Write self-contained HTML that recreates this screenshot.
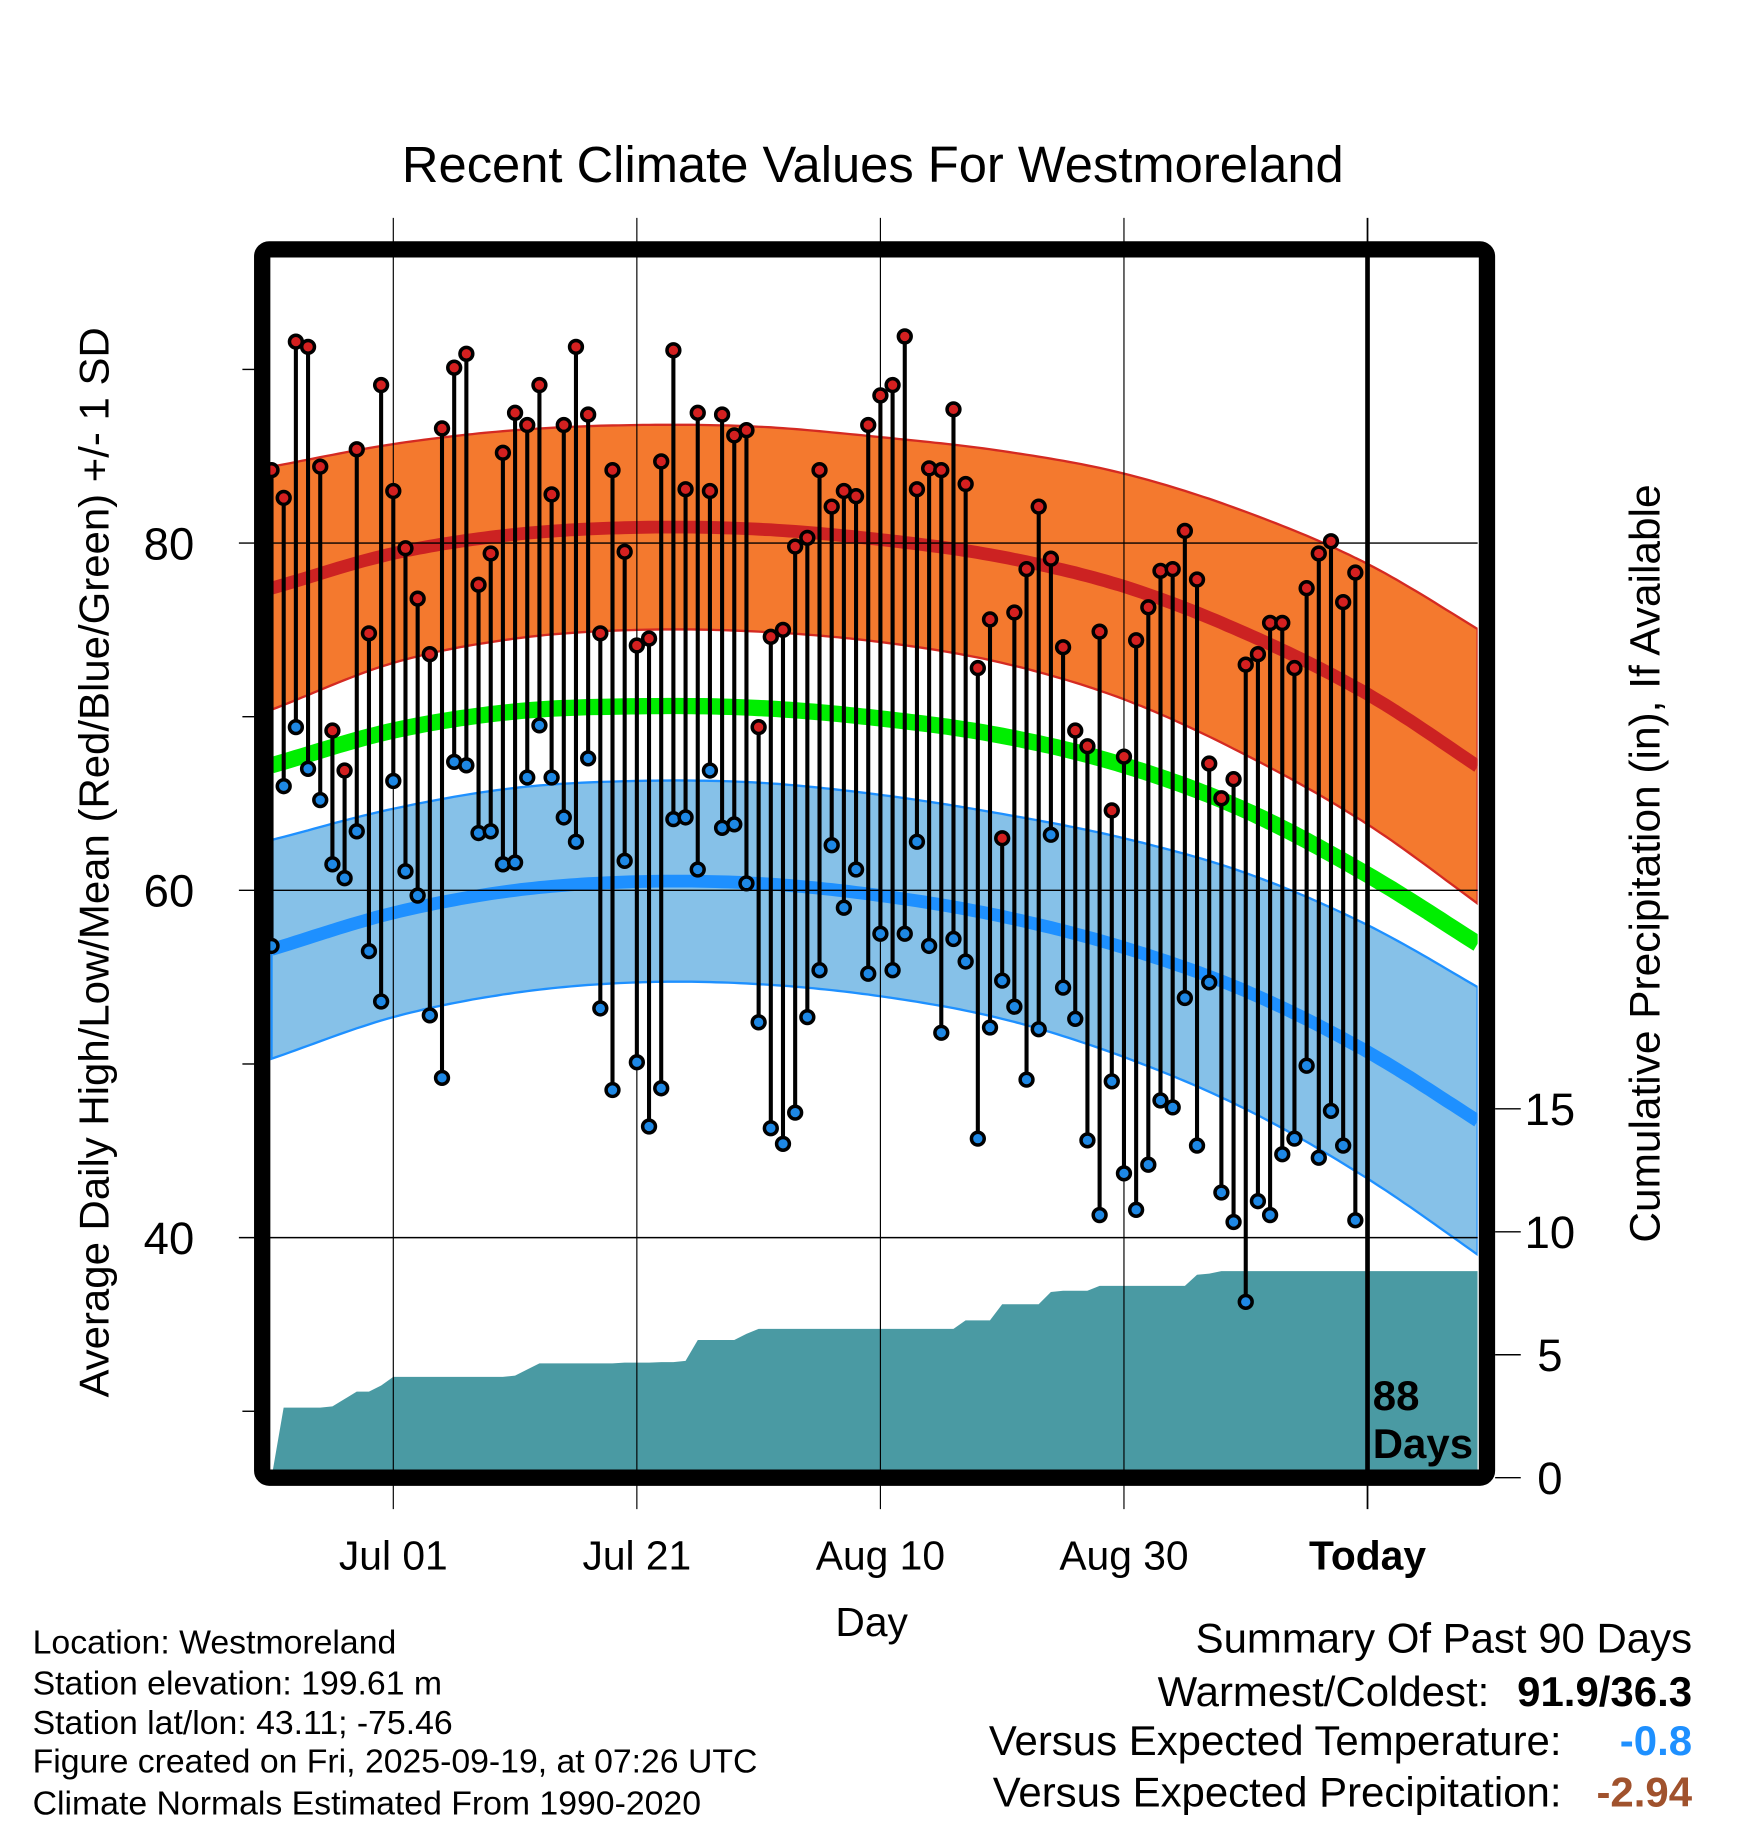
<!DOCTYPE html>
<html><head><meta charset="utf-8"><style>
html,body{margin:0;padding:0;background:#fff}
svg{display:block}
text{font-family:"Liberation Sans",Arial,sans-serif}
</style></head><body>
<svg id="chart" width="1748" height="1828" viewBox="0 0 1500 1568.6" preserveAspectRatio="none" xmlns="http://www.w3.org/2000/svg">
<rect width="1500" height="1568.6" fill="#fff"/>
<g id="plot"></g>
<text x="749" y="156" font-size="43.5" text-anchor="middle">Recent Climate Values For Westmoreland</text>
<text transform="translate(93,740) rotate(-90)" font-size="36" text-anchor="middle">Average Daily High/Low/Mean (Red/Blue/Green) +/- 1 SD</text>
<text transform="translate(1424,741) rotate(-90)" font-size="36.4" text-anchor="middle">Cumulative Precipitation (in), If Available</text>
<text x="748" y="1404" font-size="35" text-anchor="middle">Day</text>
<text x="1178" y="1210" font-size="36" font-weight="bold">88</text>
<text x="1178" y="1251" font-size="36" font-weight="bold">Days</text>
<g font-size="29">
<text x="28" y="1419">Location: Westmoreland</text>
<text x="28" y="1454">Station elevation: 199.61 m</text>
<text x="28" y="1488">Station lat/lon: 43.11; -75.46</text>
<text x="28" y="1521">Figure created on Fri, 2025-09-19, at 07:26 UTC</text>
<text x="28" y="1557">Climate Normals Estimated From 1990-2020</text>
</g>
<g font-size="36">
<text x="1452" y="1418" text-anchor="end">Summary Of Past 90 Days</text>
<text x="1278" y="1464" text-anchor="end">Warmest/Coldest:</text>
<text x="1452" y="1464" text-anchor="end" font-weight="bold">91.9/36.3</text>
<text x="1340" y="1506" text-anchor="end">Versus Expected Temperature:</text>
<text x="1452" y="1506" text-anchor="end" font-weight="bold" fill="#1e90ff">-0.8</text>
<text x="1340" y="1550" text-anchor="end">Versus Expected Precipitation:</text>
<text x="1452" y="1550" text-anchor="end" font-weight="bold" fill="#a0522d">-2.94</text>
</g>
</svg>
<script>
const highs=[84.2,82.6,91.6,91.3,84.4,69.2,66.9,85.4,74.8,89.1,83.0,79.7,76.8,73.6,86.6,90.1,90.9,77.6,79.4,85.2,87.5,86.8,89.1,82.8,86.8,91.3,87.4,74.8,84.2,79.5,74.1,74.5,84.7,91.1,83.1,87.5,83.0,87.4,86.2,86.5,69.4,74.6,75.0,79.8,80.3,84.2,82.1,83.0,82.7,86.8,88.5,89.1,91.9,83.1,84.3,84.2,87.7,83.4,72.8,75.6,63.0,76.0,78.5,82.1,79.1,74.0,69.2,68.3,74.9,64.6,67.7,74.4,76.3,78.4,78.5,80.7,77.9,67.3,65.3,66.4,73.0,73.6,75.4,75.4,72.8,77.4,79.4,80.1,76.6,78.3];
const lows=[56.8,66.0,69.4,67.0,65.2,61.5,60.7,63.4,56.5,53.6,66.3,61.1,59.7,52.8,49.2,67.4,67.2,63.3,63.4,61.5,61.6,66.5,69.5,66.5,64.2,62.8,67.6,53.2,48.5,61.7,50.1,46.4,48.6,64.1,64.2,61.2,66.9,63.6,63.8,60.4,52.4,46.3,45.4,47.2,52.7,55.4,62.6,59.0,61.2,55.2,57.5,55.4,57.5,62.8,56.8,51.8,57.2,55.9,45.7,52.1,54.8,53.3,49.1,52.0,63.2,54.4,52.6,45.6,41.3,49.0,43.7,41.6,44.2,47.9,47.5,53.8,45.3,54.7,42.6,40.9,36.3,42.1,41.3,44.8,45.7,49.9,44.6,47.3,45.3,41.0];
const precip=[0,2.85,2.85,2.85,2.85,2.9,3.2,3.5,3.5,3.75,4.1,4.1,4.1,4.1,4.1,4.1,4.1,4.1,4.1,4.1,4.15,4.4,4.65,4.65,4.65,4.65,4.65,4.65,4.65,4.68,4.68,4.68,4.7,4.7,4.75,5.6,5.6,5.6,5.6,5.85,6.05,6.05,6.05,6.05,6.05,6.05,6.05,6.05,6.05,6.05,6.05,6.05,6.05,6.05,6.05,6.05,6.05,6.4,6.4,6.4,7.05,7.05,7.05,7.05,7.55,7.6,7.6,7.6,7.8,7.8,7.8,7.8,7.8,7.8,7.8,7.8,8.25,8.3,8.4,8.4,8.4,8.4,8.4,8.4,8.4,8.4,8.4,8.4,8.4,8.4];
const normDays=[0,10,20,30,40,50,60,70,80,90,100];
const normHigh=[77.4,79.4,80.5,80.9,80.8,80.2,79.2,77.5,74.8,71.3,66.7];
const normHighSD=[7.0,6.3,6.0,5.9,5.9,5.9,6.1,6.5,7.0,7.5,7.95];
const normMean=[67.2,69.2,70.3,70.6,70.5,69.9,68.9,67.2,64.6,60.9,56.5];
const normLow=[56.6,58.7,60.0,60.5,60.4,59.7,58.5,56.7,54.2,50.7,46.3];
const normLowSD=[6.3,6.0,5.9,5.8,5.8,5.8,5.9,6.3,6.8,7.3,7.75];
const xTickDays=[10,30,50,70,90];
const xTickLabels=["Jul 01","Jul 21","Aug 10","Aug 30","Today"];
const yTicks=[40,60,80];
const yMinor=[30,50,70,90];
const pTicks=[0,5,10,15];

const X0=233,DX=10.45,PL=232,PR=1268,PT=221,PB=1261;
const x=d=>X0+d*DX;
const yT=t=>466+(80-t)*14.9;
const yP=p=>1268-p*21.1;
const NS='http://www.w3.org/2000/svg';
const plot=document.getElementById('plot');
function mk(tag,attrs,parent){const e=document.createElementNS(NS,tag);for(const k in attrs)e.setAttribute(k,attrs[k]);(parent||plot).appendChild(e);return e;}
function interp(arr,d){
  let i=0;while(i<normDays.length-2&&d>normDays[i+1])i++;
  const t=(d-normDays[i])/(normDays[i+1]-normDays[i]);
  const p1=arr[i],p2=arr[i+1];
  const p0=i>0?arr[i-1]:2*p1-p2;
  const p3=i+2<arr.length?arr[i+2]:2*p2-p1;
  return 0.5*((2*p1)+(-p0+p2)*t+(2*p0-5*p1+4*p2-p3)*t*t+(-p0+3*p1-3*p2+p3)*t*t*t);
}
const dEnd=(PR-X0)/DX;
const samp=[];for(let d=0;d<=dEnd;d+=0.5)samp.push(d);samp.push(dEnd);
function line(fn){return samp.map((d,i)=>(i?'L':'M')+x(d).toFixed(1)+','+yT(fn(d)).toFixed(1)).join('');}
function band(m,s){
  const up=samp.map((d,i)=>(i?'L':'M')+x(d).toFixed(1)+','+yT(interp(m,d)+interp(s,d)).toFixed(1)).join('');
  const dn=samp.slice().reverse().map(d=>'L'+x(d).toFixed(1)+','+yT(interp(m,d)-interp(s,d)).toFixed(1)).join('');
  return up+dn+'Z';
}
const clip=mk('clipPath',{id:'pc'});mk('rect',{x:PL,y:PT,width:PR-PL,height:PB-PT},clip);
const g=mk('g',{'clip-path':'url(#pc)'});

let pd='M'+x(0)+','+yP(0);
precip.forEach((p,i)=>{pd+='L'+x(i).toFixed(1)+','+yP(p).toFixed(1);});
pd+='L'+PR+','+yP(precip[precip.length-1]).toFixed(1)+'L'+PR+','+PB+'L'+x(0)+','+PB+'Z';
const pa=mk('path',{d:pd,fill:'#4a9aa3'},g);



const hb=mk('path',{d:band(normHigh,normHighSD),fill:'#f4792e',stroke:'#d42a22','stroke-width':2},g);


const lb=mk('path',{d:band(normLow,normLowSD),fill:'#86c1e8',stroke:'#1e90ff','stroke-width':2},g);


const hl=mk('path',{d:line(d=>interp(normHigh,d)),fill:'none',stroke:'#cc2222','stroke-width':11},g);


const ml=mk('path',{d:line(d=>interp(normMean,d)),fill:'none',stroke:'#00ee00','stroke-width':14},g);


const ll=mk('path',{d:line(d=>interp(normLow,d)),fill:'none',stroke:'#1e90ff','stroke-width':11},g);



yTicks.forEach(t=>{
  const l=mk('line',{x1:205,x2:PR,y1:yT(t),y2:yT(t),stroke:'#000','stroke-width':1.2});
  
  
  const tx=mk('text',{x:145,y:yT(t)+14,'font-size':39,'text-anchor':'middle'});
  tx.textContent=t;
  
  
});
yMinor.forEach(t=>{
  const l=mk('line',{x1:208,x2:220,y1:yT(t),y2:yT(t),stroke:'#000','stroke-width':1.2});
  
  
});
xTickDays.forEach((d,i)=>{
  const isToday=i===xTickDays.length-1;
  const l=mk('line',{x1:x(d),x2:x(d),y1:187,y2:1295,stroke:'#000','stroke-width':isToday?1.5:1});
  
  
  if(isToday){
    const t=mk('line',{x1:x(d),x2:x(d),y1:PT,y2:PB,stroke:'#000','stroke-width':4});
    
    
  }
  const tx=mk('text',{x:x(d),y:1347,'font-size':35,'text-anchor':'middle','font-weight':isToday?'bold':'normal'});
  tx.textContent=xTickLabels[i];
  
  
});
pTicks.forEach(p=>{
  const l=mk('line',{x1:1283,x2:1305,y1:yP(p),y2:yP(p),stroke:'#000','stroke-width':1.2});
  
  
  const tx=mk('text',{x:1330,y:yP(p)+14,'font-size':39,'text-anchor':'middle'});
  tx.textContent=p;
  
  
});

highs.forEach((h,i)=>{
  const s=mk('line',{x1:x(i),x2:x(i),y1:yT(h),y2:yT(lows[i]),stroke:'#000','stroke-width':3.5});
  
  
});
highs.forEach((h,i)=>{
  const c=mk('circle',{cx:x(i),cy:yT(h),r:5.5,fill:'#d42020',stroke:'#000','stroke-width':3});
  
  
  const c2=mk('circle',{cx:x(i),cy:yT(lows[i]),r:5.5,fill:'#1e88e5',stroke:'#000','stroke-width':3});
  
  
});

const fr=mk('rect',{x:225,y:214,width:1051,height:1054,rx:6,fill:'none',stroke:'#000','stroke-width':14});


</script>
</body></html>
